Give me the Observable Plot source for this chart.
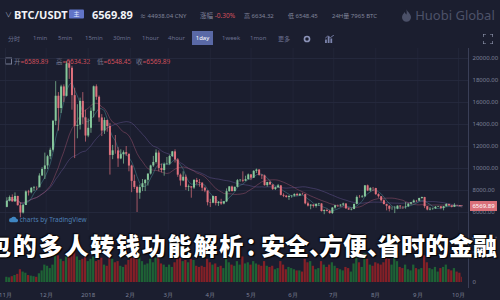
<!DOCTYPE html>
<html>
<head>
<meta charset="utf-8">
<script src="https://cdn.jsdelivr.net/npm/d3@7"></script>
<script src="https://cdn.jsdelivr.net/npm/@observablehq/plot@0.6"></script>
<style>
  body { margin: 0; background: #1b1e2f; }
  #root { position: relative; width: 500px; height: 300px; overflow: hidden; background: #1b1e2f;
          font-family: "Noto Sans", "Noto Sans CJK SC", sans-serif; color: #767c94; }
  .a { position: absolute; white-space: nowrap; }
  .red { color: #d2505c; }
  #title { position: absolute; left: -13px; top: 232px; font-family: "Noto Sans CJK SC", sans-serif;
           font-weight: 900; font-size: 24px; line-height: 26px; color: #fff; letter-spacing: 1.8px; white-space: nowrap;
           text-shadow: 0 0 2px #000, 0 0 1px #000, 1px 1px 1px rgba(0,0,0,.9), -1px -1px 1px rgba(0,0,0,.6); z-index: 10; }
  #title .p { display: inline-block; overflow: visible; }
</style>
</head>
<body>
<div id="root"></div>
<script>
// Daily chart of BTC/USDT, one candle per two days, Nov 2017 – Oct 2018.
const firstOpen = 6468;
const close = [
  7024, 7363, 6959, 7459, 6618, 5950, 6635, 7871, 7790, 8200, 8254, 8250, 9319, 9907, 10233,
  11074, 11657, 14291, 16569, 15455, 17415, 16564, 19497, 19114, 16624, 13831, 13925, 16099, 14606, 12952, 13657,
  15201, 17429, 16477, 14595, 13405, 14360, 13819, 11188, 11607, 11600, 10868, 11259, 11441, 11296, 10221,
  8830, 8277, 7754, 8265, 8621, 8926, 9494, 10233, 10551, 11403, 10005, 9813, 10366, 10397,
  11086, 11512, 10779, 9395, 8866, 9205, 8269, 8338, 8223, 8913, 8728, 8668, 8209, 7954, 6891, 6844,
  7456, 6811, 6911, 6770, 6968, 7895, 8329, 7902, 8294, 8895, 8930, 8845, 8987, 9419, 9119,
  9743, 9858, 9373, 9325, 8441, 8723, 8510, 8094, 8247, 8418, 7557, 7480, 7368, 7472, 7494,
  7643, 7514, 7653, 7624, 6786, 6582, 6675, 6550, 6734, 6776, 6083, 6173, 6093, 5903, 6404,
  6614, 6597, 6673, 6773, 6329, 6228, 6276, 6741, 7370, 7354, 7418, 8424, 7951, 8193, 8180, 7625,
  7434, 7068, 6719, 6568, 6295, 6297, 6308, 6580, 6506, 6488, 6534, 6764, 6884, 7047, 7037,
  7272, 7361, 6529, 6225, 6295, 6326, 6476, 6517, 6372, 6519, 6721, 6596, 6480, 6644, 6626, 6557, 6569.89
];
const high = [
  7340, 7500, 7600, 7780, 7480, 6870, 6740, 7960, 8010, 8270, 8370, 8330, 9520, 10070, 11400,
  11200, 11850, 14370, 17900, 16900, 17570, 17600, 19700, 19780, 19300, 17300, 15800, 16400, 16900, 15300, 14500,
  15500, 17500, 17600, 16600, 14900, 14600, 14400, 14100, 12100, 13000, 11900, 11700, 11600, 12000, 11300,
  10300, 9400, 8390, 8500, 9000, 8990, 9500, 10300, 11100, 11700, 11600, 10400, 10500, 11000,
  11200, 11550, 11700, 10900, 9500, 9700, 9400, 8500, 8350, 9000, 9100, 9000, 8700, 8300, 7950, 7200,
  7500, 7450, 7000, 7200, 7000, 8150, 8350, 8400, 8300, 9000, 9000, 9700, 9300, 9500, 9450,
  9800, 9950, 9900, 9450, 9400, 8750, 8850, 8450, 8300, 8550, 8450, 7700, 7550, 7500, 7550,
  7700, 7750, 7700, 7750, 7650, 6950, 6700, 6700, 6800, 6830, 6800, 6250, 6300, 6200, 6450,
  6650, 6680, 6700, 6850, 6790, 6400, 6350, 6750, 7500, 7550, 7550, 8450, 8500, 8250, 8250, 8200,
  7700, 7450, 7150, 6750, 6600, 6500, 6550, 6600, 6620, 6520, 6900, 6800, 6900, 7150, 7100,
  7300, 7400, 7380, 6550, 6450, 6400, 6550, 6560, 6550, 6550, 6800, 6750, 6600, 6800, 6650, 6630, 6634.32
];
const low = [
  6430, 6960, 6950, 6960, 6580, 5510, 5860, 6630, 7500, 7700, 7900, 8000, 8250, 9300, 9000,
  9900, 10800, 11500, 13900, 13400, 15000, 16000, 16500, 18100, 15300, 10900, 12700, 13500, 14000, 12400, 12800,
  13200, 14600, 16200, 14200, 12900, 13100, 13300, 9400, 10800, 11300, 10100, 10800, 10400, 11100, 9700,
  7800, 8100, 6000, 7200, 7900, 7900, 8400, 9400, 10100, 10400, 9700, 9600, 9300, 10300,
  10300, 11000, 10500, 9200, 8400, 8800, 8000, 7900, 7300, 8100, 8500, 8300, 7900, 7800, 6600, 6450,
  6800, 6600, 6550, 6650, 6700, 6900, 7850, 7850, 7900, 8250, 8750, 8700, 8800, 8950, 8900,
  9100, 9550, 9300, 9000, 8400, 8300, 8450, 8000, 8000, 8200, 7500, 7350, 7300, 7100, 7300,
  7400, 7500, 7450, 7580, 6700, 6500, 6250, 6400, 6400, 6550, 6050, 5800, 6050, 5850, 5830,
  6300, 6450, 6500, 6550, 6300, 6200, 6150, 6250, 6700, 7300, 7300, 7400, 7900, 7850, 7900, 7550,
  7300, 6950, 6700, 6150, 6050, 6200, 5900, 6250, 6300, 6270, 6300, 6450, 6650, 6850, 6900,
  7000, 7200, 6350, 6150, 6150, 6200, 6300, 6450, 6250, 6150, 6500, 6580, 6420, 6450, 6550, 6520, 6548.45
];
const volume = [
  9000, 8000, 10000, 12000, 14000, 22000, 18000, 16000, 12000, 11000, 10000, 9000, 15000, 20000, 30000,
  28000, 24000, 30000, 52000, 46000, 40000, 36000, 44000, 50000, 48000, 66000, 44000, 38000, 40000, 46000, 36000,
  40000, 44000, 36000, 38000, 42000, 30000, 28000, 62000, 40000, 34000, 36000, 28000, 26000, 30000, 38000,
  56000, 48000, 70000, 46000, 36000, 30000, 32000, 40000, 34000, 42000, 46000, 32000, 30000, 26000,
  30000, 26000, 34000, 44000, 42000, 36000, 38000, 34000, 40000, 38000, 28000, 26000, 28000, 26000, 40000, 34000,
  30000, 32000, 26000, 28000, 24000, 48000, 34000, 30000, 28000, 36000, 30000, 44000, 32000, 34000, 30000,
  36000, 32000, 30000, 28000, 36000, 28000, 26000, 28000, 22000, 24000, 36000, 30000, 22000, 26000, 24000,
  22000, 20000, 20000, 18000, 40000, 34000, 36000, 28000, 22000, 24000, 36000, 30000, 26000, 30000, 34000,
  28000, 24000, 22000, 20000, 26000, 24000, 18000, 32000, 46000, 34000, 26000, 50000, 40000, 30000, 28000, 34000,
  32000, 30000, 34000, 52000, 40000, 30000, 46000, 36000, 26000, 24000, 30000, 22000, 20000, 30000, 24000,
  22000, 24000, 46000, 34000, 24000, 22000, 26000, 18000, 24000, 26000, 30000, 22000, 20000, 24000, 18000, 16000, 9000
];
const yTicks = [6000, 8000, 10000, 12000, 14000, 16000, 18000, 20000];
const volTicks = [0, 50000];
const monthTicks = ["2017-11-01", "2017-12-01", "2018-01-01", "2018-02-01", "2018-03-01", "2018-04-01",
                    "2018-05-01", "2018-06-01", "2018-07-01", "2018-08-01", "2018-09-01", "2018-10-01"];
const monthLabels = ["11月", "12月", "2018", "2月", "3月", "4月", "5月", "6月", "7月", "8月", "9月", "10月"];
const tabs = ["分时", "1min", "5min", "15min", "30min", "1hour", "4hour", "1day", "1week", "1mon", "更多"];
const legendKeys = ["开", "高", "低", "收"];
const legendValues = [6589.89, 6634.32, 6548.45, 6569.89];

const UP = "#86c79b", DOWN = "#e0717d";
const VUP = "#1f6e36", VDOWN = "#962126";
const root = document.getElementById("root");

function put(html, x, yc, css = "") {
  const d = document.createElement("div");
  d.className = "a";
  d.style.cssText = `left:${x}px;top:${yc}px;transform:translateY(-50%);${css}`;
  d.innerHTML = html;
  root.appendChild(d);
  return d;
}

// header bar
put("∨", 5, 14, "font-size:7px;color:#9aa0b5;");
put("BTC/USDT", 14, 14, "font-size:11px;font-weight:700;color:#f2f3f7;");
put("主", 69, 14, "width:15px;height:9px;line-height:9px;text-align:center;font-size:6px;color:#dfe4ff;background:#6174c8;border-radius:1px;");
put("6569.89", 92, 14, "font-size:11px;font-weight:700;color:#f2f3f7;");
put("≈ 44938.04 CNY", 140, 15, "font-size:6px;color:#80859b;");
put("涨幅 <span class='red'>-0.30%</span>", 200, 15, "font-size:6.5px;color:#80859b;");
put("高 6634.32", 244, 15, "font-size:6px;color:#80859b;");
put("低 6548.45", 288, 15, "font-size:6px;color:#80859b;");
put("24H量 7965 BTC", 332, 15, "font-size:6px;color:#80859b;");
put(`<svg width="9" height="13" viewBox="0 0 10 14" style="vertical-align:-2px"><path d="M5 0C6 3 10 5 10 9A5 5 0 0 1 0 9C0 6 2 5 3 3C3.5 5 4.5 5.5 5 6C5.5 4 5 2 5 0Z" fill="#4b5068"/></svg>
     <span style="font-size:13px;color:#4d5269;">Huobi Global</span>`, 402, 14);

// interval tabs
const tabX = [8, 33, 58, 85, 113, 142, 168, 194, 222, 250, 278];
tabs.forEach((t, i) => {
  if (t === "1day") {
    put(t, 192, 38, "width:21px;height:14px;line-height:14px;text-align:center;font-size:6px;color:#fff;background:#5a69a6;");
  } else {
    put(t, tabX[i], 38, "font-size:6px;color:#6b7190;");
  }
});
put(`<svg width="8" height="8" viewBox="0 0 10 10"><circle cx="5" cy="5" r="3.2" fill="none" stroke="#8c93b8" stroke-width="2"/></svg>`, 303, 37);
put(`<svg width="9" height="8" viewBox="0 0 10 9"><path d="M0 9V5H2V9M3 9V2H5V9M6 9V4H8V9" fill="#7c84ad"/><path d="M0 4L3 1L6 3L10 0" stroke="#7c84ad" fill="none"/></svg>`, 325, 37);
put(`<svg width="10" height="10" viewBox="0 0 10 10" fill="none" stroke="#9aa0b8" stroke-width="1.2"><path d="M0 3V0H3M7 0H10V3M10 7V10H7M3 10H0V7"/></svg>`, 483, 38);

// legend row
const legX = [14, 56, 97, 136];
put("", 5, 61, "width:5px;height:5px;border:1px solid #767c94;");
legendKeys.forEach((k, i) => {
  put(`${k}<span class="red">=${legendValues[i].toFixed(2)}</span>`, legX[i], 61, "font-size:6.5px;color:#767c94;");
});

// candle records
const DAY = 864e5, T0 = Date.UTC(2017, 10, 1);
const n = close.length;
const candles = close.map((c, i) => {
  const span = i === n - 1 ? 1 : 2;
  const t0 = T0 + 2 * i * DAY;
  const open = i === n - 1 ? legendValues[0] : (i ? close[i - 1] : firstOpen);
  return {
    t0: new Date(t0), t1: new Date(t0 + span * DAY), tm: new Date(t0 + span * DAY / 2),
    open, close: c, high: high[i], low: low[i], volume: volume[i],
    col: c >= open ? UP : DOWN, vcol: c >= open ? VUP : VDOWN
  };
});
const ticks = monthTicks.map(s => new Date(s + "T00:00:00Z"));
const labelOf = new Map(ticks.map((d, i) => [+d, monthLabels[i]]));
const xScale = {type: "utc", domain: [ticks[0], ticks[ticks.length - 1]], range: [5, 458]};

// price panel
const price = Plot.plot({
  width: 500, height: 182, marginLeft: 0, marginRight: 32, marginTop: 0, marginBottom: 0,
  style: {background: "transparent", fontFamily: "Noto Sans, sans-serif", overflow: "visible"},
  x: {...xScale, axis: null},
  y: {domain: [6000, 20000], range: [164, 10], axis: null},
  color: {type: "identity"},
  marks: [
    Plot.gridY(yTicks, {stroke: "#2b2f45", strokeOpacity: 1, strokeWidth: 0.6}),
    Plot.gridX(ticks, {stroke: "#262a3e", strokeOpacity: 1, strokeWidth: 0.6}),
    Plot.axisY(yTicks, {anchor: "right", tickSize: 0, tickPadding: 4, fontSize: 6, fill: "#7b8197",
                        tickFormat: d => d.toFixed(2)}),
    Plot.lineY(candles, Plot.windowY({k: 30, anchor: "end"}, {x: "tm", y: "close", stroke: "#6b5a9c", strokeOpacity: 0.55, strokeWidth: 0.8})),
    Plot.lineY(candles, Plot.windowY({k: 15, anchor: "end"}, {x: "tm", y: "close", stroke: "#a25470", strokeOpacity: 0.6, strokeWidth: 0.8})),
    Plot.lineY(candles, Plot.windowY({k: 5, anchor: "end"}, {x: "tm", y: "close", stroke: "#4f9aa2", strokeOpacity: 0.55, strokeWidth: 0.8})),
    Plot.ruleX(candles, {x: "tm", y1: "low", y2: "high", stroke: "col", strokeWidth: 0.7}),
    Plot.ruleX(candles, {x: "tm", y1: "open", y2: "close", stroke: "col", strokeWidth: 2})
  ]
});
price.style.position = "absolute";
price.style.left = "0px";
price.style.top = "48px";
root.appendChild(price);

// current price tag on the right axis
const last = candles[n - 1];
const yLast = 48 + price.scale("y").apply(last.close);
put(last.close.toFixed(2), 470, yLast, "width:27px;height:10px;line-height:10px;text-align:center;font-size:6px;color:#fff;background:#d9707a;");

// volume panel with the date axis
const vol = Plot.plot({
  width: 500, height: 68, marginLeft: 0, marginRight: 32, marginTop: 0, marginBottom: 12,
  style: {background: "transparent", fontFamily: "Noto Sans, sans-serif", overflow: "visible"},
  x: {...xScale, axis: null},
  y: {domain: [0, 50000], range: [50, 21], axis: null},
  color: {type: "identity"},
  marks: [
    Plot.rectY(candles, {x1: "t0", x2: "t1", y: "volume", fill: "vcol", fillOpacity: 0.85, insetLeft: 0.25, insetRight: 0.25}),
    Plot.axisY(volTicks, {anchor: "right", tickSize: 0, tickPadding: 4, fontSize: 6, fill: "#7b8197",
                          tickFormat: d => d === 0 ? "0" : (d / 1000) + "K"}),
    Plot.axisX(ticks, {anchor: "bottom", tickSize: 0, tickPadding: 4, fontSize: 6, fill: "#7b8197",
                       tickFormat: d => labelOf.get(+d)})
  ]
});
vol.style.position = "absolute";
vol.style.left = "0px";
vol.style.top = "232px";
root.appendChild(vol);

// right axis line and watermark
const axisLine = document.createElement("div");
axisLine.className = "a";
axisLine.style.cssText = "left:468px;top:48px;width:1px;height:240px;background:#3a3f57;";
root.appendChild(axisLine);
put(`<svg width="9" height="7" viewBox="0 0 12 9" style="vertical-align:-1px"><path d="M3 9A3 3 0 0 1 3 3A4 4 0 0 1 10 4A2.5 2.5 0 0 1 9 9Z" fill="#3f86c2"/></svg> charts by TradingView`,
    9, 219, "font-size:6.5px;color:#4d7fb3;");

// headline over the chart
const title = document.createElement("div");
title.id = "title";
title.innerHTML = `包的多人转钱功能解析<span class="p" style="width:16px">：</span><span style="letter-spacing:0">安全<span class="p" style="width:10px">、</span>方便<span class="p" style="width:10px">、</span>省时的金融</span>`;
root.appendChild(title);
</script>
</body>
</html>
